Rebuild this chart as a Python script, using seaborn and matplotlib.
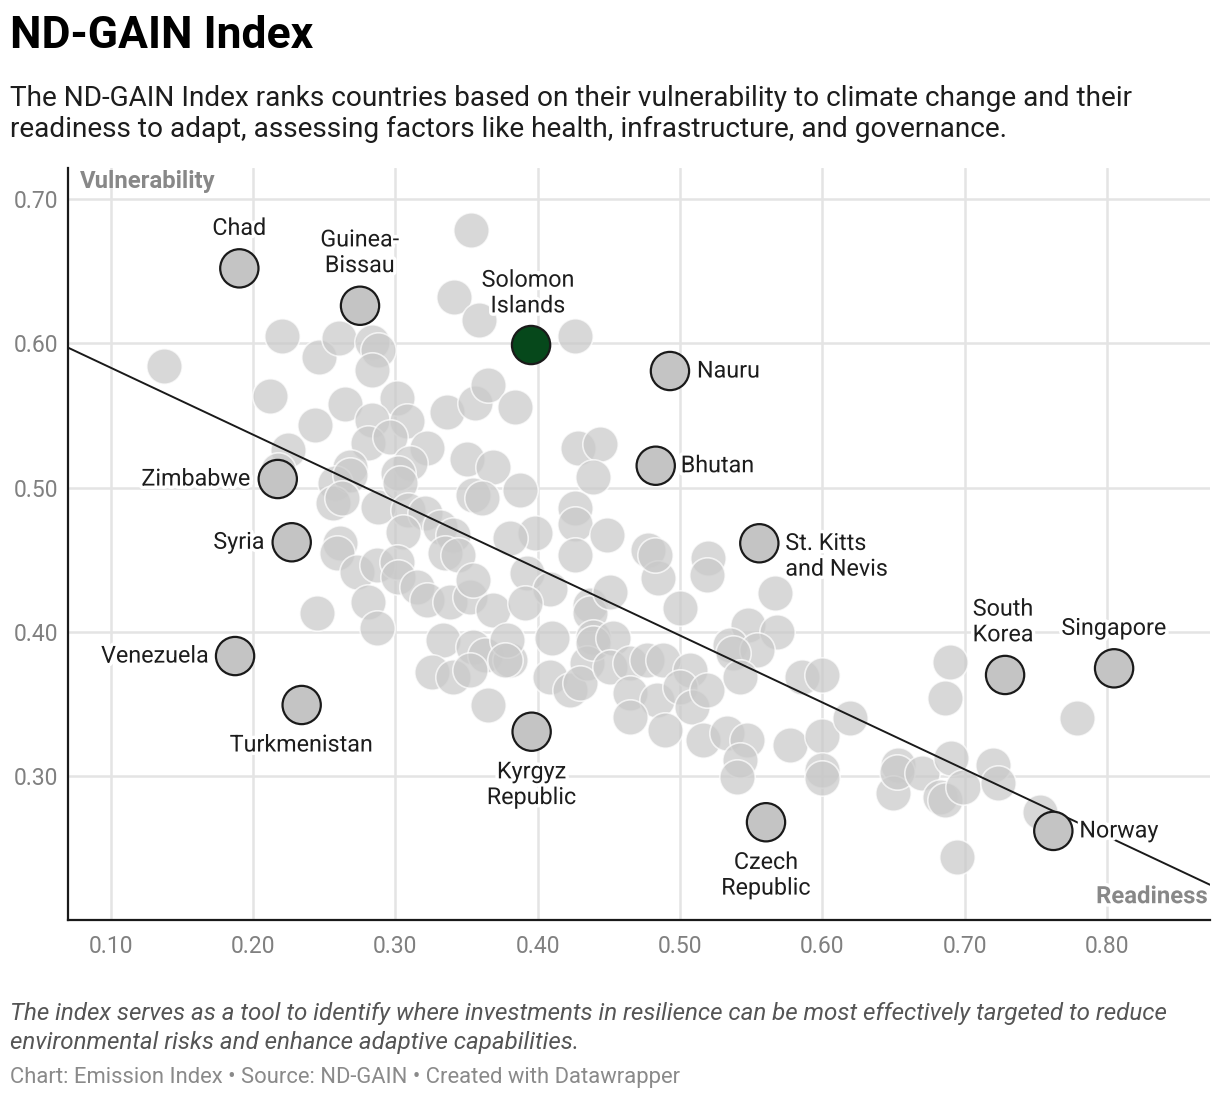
import numpy as np
import pandas as pd
import matplotlib
matplotlib.use("Agg")
import matplotlib.pyplot as plt
import matplotlib.patheffects as pe
import seaborn as sns

# all countries (readiness, vulnerability)
readiness = [0.1375, 0.2204, 0.2119, 0.2464, 0.2604, 0.2836, 0.2878, 0.2836, 0.3532, 0.3412,
             0.3588, 0.4263, 0.2647, 0.3012, 0.2436, 0.2836, 0.3082, 0.3363, 0.2808, 0.2963,
             0.3223, 0.2246, 0.3103, 0.2682, 0.3560, 0.3651, 0.3841, 0.3504, 0.3687, 0.3876,
             0.3546, 0.3609, 0.4284, 0.4438, 0.4389, 0.4263, 0.4263, 0.4263, 0.3982, 0.3806,
             0.3926, 0.4087, 0.4368, 0.2576, 0.2682, 0.2562, 0.2625, 0.2878, 0.3019, 0.3033,
             0.3089, 0.3209, 0.3314, 0.3054, 0.3405, 0.3349, 0.3441, 0.2611, 0.2590, 0.2731,
             0.2871, 0.3012, 0.3019, 0.3152, 0.2808, 0.2871, 0.2450, 0.3223, 0.3384, 0.3525,
             0.3687, 0.3911, 0.3546, 0.3335, 0.3546, 0.3630, 0.3806, 0.3258, 0.3405, 0.3525,
             0.3651, 0.4101, 0.4087, 0.4228, 0.4368, 0.4389, 0.4347, 0.4488, 0.4776, 0.4846,
             0.5197, 0.5190, 0.4509, 0.5001, 0.5668, 0.5479, 0.5682, 0.5352, 0.5542, 0.5373,
             0.4389, 0.4530, 0.3785, 0.3771, 0.4298, 0.4509, 0.4649, 0.4768, 0.4881, 0.5071,
             0.4649, 0.4839, 0.5001, 0.5085, 0.5190, 0.4649, 0.4895, 0.5162, 0.5331, 0.5472,
             0.5424, 0.5403, 0.5424, 0.5858, 0.5999, 0.5774, 0.5999, 0.5999, 0.5999, 0.6195,
             0.6533, 0.6498, 0.6898, 0.6863, 0.7791, 0.6526, 0.6701, 0.6905, 0.6828, 0.6863,
             0.6989, 0.7200, 0.7235, 0.7531, 0.6947, 0.2176, 0.4827]
vulnerability = [0.5843, 0.6051, 0.5635, 0.5905, 0.6037, 0.6009, 0.5954, 0.5815, 0.6785, 0.6321,
                 0.6161, 0.6051, 0.5580, 0.5621, 0.5434, 0.5469, 0.5462, 0.5524, 0.5310, 0.5351,
                 0.5275, 0.5261, 0.5171, 0.5143, 0.5587, 0.5711, 0.5559, 0.5199, 0.5143, 0.4984,
                 0.4949, 0.4929, 0.5275, 0.5303, 0.5074, 0.4859, 0.4749, 0.4534, 0.4686, 0.4652,
                 0.4409, 0.4298, 0.4188, 0.5033, 0.5088, 0.4894, 0.4929, 0.4866, 0.5102, 0.5033,
                 0.4846, 0.4825, 0.4728, 0.4693, 0.4672, 0.4548, 0.4534, 0.4617, 0.4548, 0.4416,
                 0.4465, 0.4485, 0.4382, 0.4312, 0.4208, 0.4028, 0.4132, 0.4222, 0.4208, 0.4243,
                 0.4153, 0.4202, 0.4361, 0.3945, 0.3897, 0.3841, 0.3807, 0.3724, 0.3689, 0.3738,
                 0.3495, 0.3959, 0.3689, 0.3599, 0.4132, 0.3966, 0.3786, 0.4672, 0.4569, 0.4375,
                 0.4513, 0.4395, 0.4278, 0.4167, 0.4271, 0.4049, 0.4001, 0.3911, 0.3876, 0.3855,
                 0.3925, 0.3959, 0.3945, 0.3807, 0.3648, 0.3758, 0.3786, 0.3807, 0.3807, 0.3738,
                 0.3578, 0.3530, 0.3620, 0.3481, 0.3599, 0.3412, 0.3322, 0.3253, 0.3301, 0.3253,
                 0.3114, 0.2997, 0.3689, 0.3689, 0.3703, 0.3218, 0.3280, 0.3045, 0.2990, 0.3405,
                 0.3080, 0.2886, 0.3793, 0.3544, 0.3405, 0.3031, 0.3024, 0.3128, 0.2858, 0.2837,
                 0.2927, 0.3080, 0.2955, 0.2754, 0.2443, 0.5123, 0.4534]

# labelled countries
countries = ["Chad", "Guinea-\nBissau", "Solomon\nIslands", "Nauru", "Bhutan",
             "St. Kitts\nand Nevis", "Zimbabwe", "Syria", "Venezuela", "Turkmenistan",
             "Kyrgyz\nRepublic", "Czech\nRepublic", "South\nKorea", "Singapore", "Norway"]
countries_readiness = [0.1904, 0.2752, 0.3954, 0.4930, 0.4830, 0.5558, 0.2174, 0.2272,
                       0.1874, 0.2342, 0.3958, 0.5605, 0.7285, 0.8051, 0.7624]
countries_vulnerability = [0.6519, 0.6260, 0.5988, 0.5808, 0.5152, 0.4615, 0.5060, 0.4622,
                           0.3834, 0.3495, 0.3310, 0.2683, 0.3703, 0.3749, 0.2623]
highlight = "Solomon\nIslands"

# trend line end points
trend_x = [0.070, 0.8725]
trend_y = [0.597, 0.225]

x_ticks = [0.1, 0.2, 0.3, 0.4, 0.5, 0.6, 0.7, 0.8]
y_ticks = [0.3, 0.4, 0.5, 0.6, 0.7]

# label placement: (dx, dy) in pixels, ha
label_pos = {
    "Chad": (0, 40, "center"), "Guinea-\nBissau": (0, 53, "center"),
    "Solomon\nIslands": (-3, 52, "center"), "Nauru": (27, 0, "left"),
    "Bhutan": (25, 0, "left"), "St. Kitts\nand Nevis": (26, -13, "left"),
    "Zimbabwe": (-27, 0, "right"), "Syria": (-27, 0, "right"),
    "Venezuela": (-26, 0, "right"), "Turkmenistan": (0, -40, "center"),
    "Kyrgyz\nRepublic": (0, -53, "center"), "Czech\nRepublic": (0, -53, "center"),
    "South\nKorea": (-2, 53, "center"), "Singapore": (0, 40, "center"),
    "Norway": (26, 0, "left"),
}

sns.set_style("white")
plt.rcParams["font.family"] = ["Roboto", "DejaVu Sans"]

W, H = 1220, 1102
fig = plt.figure(figsize=(W / 100, H / 100), dpi=100)
ax = fig.add_axes([68 / W, 1 - 920 / H, (1210 - 68) / W, (920 - 168) / H])

df = pd.DataFrame({"readiness": readiness, "vulnerability": vulnerability})
hl = pd.DataFrame({"readiness": countries_readiness,
                   "vulnerability": countries_vulnerability,
                   "country": countries})

sns.scatterplot(data=df, x="readiness", y="vulnerability", ax=ax, s=650,
                color="#c9c9c9", alpha=0.72, edgecolor="white", linewidth=1.2, zorder=2)
sns.lineplot(x=trend_x, y=trend_y, ax=ax, color="#1a1a1a", linewidth=1.4, zorder=3)

cols = ["#06481b" if c == highlight else "#c4c4c4" for c in countries]
sns.scatterplot(data=hl, x="readiness", y="vulnerability", ax=ax, s=760,
                hue="country", palette=dict(zip(countries, cols)), legend=False,
                edgecolor="#1a1a1a", linewidth=1.6, zorder=4)

halo = [pe.withStroke(linewidth=5, foreground="white")]
for name, xv, yv in zip(countries, countries_readiness, countries_vulnerability):
    dx, dy, ha = label_pos[name]
    ax.annotate(name, (xv, yv), xytext=(dx, dy), textcoords="offset pixels",
                ha=ha, va="center", fontsize=16.8, color="#1d1d1d",
                linespacing=1.15, path_effects=halo, zorder=5)

ax.set_xlim(0.070, 0.8725)
ax.set_ylim(0.2006, 0.7214)
ax.set_xticks(x_ticks)
ax.set_yticks(y_ticks)
ax.set_xticklabels([f"{v:.2f}" for v in x_ticks])
ax.set_yticklabels([f"{v:.2f}" for v in y_ticks])
ax.tick_params(length=0, labelsize=16.5, labelcolor="#808080")
ax.tick_params(axis="x", pad=11)
ax.tick_params(axis="y", pad=7)
ax.grid(True, color="#e4e4e4", linewidth=1.8, zorder=0)
ax.set_axisbelow(True)
ax.set_xlabel("")
ax.set_ylabel("")
for side in ["top", "right"]:
    ax.spines[side].set_visible(False)
for side in ["left", "bottom"]:
    ax.spines[side].set_color("#1a1a1a")
    ax.spines[side].set_linewidth(1.6)

ax.text(0.0105, 0.982, "Vulnerability", transform=ax.transAxes, ha="left", va="center",
        fontsize=17.2, fontweight="bold", color="#888888")
ax.text(0.998, 0.031, "Readiness", transform=ax.transAxes, ha="right", va="center",
        fontsize=17.2, fontweight="bold", color="#888888", path_effects=halo)

fig.text(10 / W, 1 - 36 / H, "ND-GAIN Index", fontsize=32, fontweight="bold",
         color="#000000", va="center")
fig.text(10 / W, 1 - 114 / H,
         "The ND-GAIN Index ranks countries based on their vulnerability to climate change and their\n"
         "readiness to adapt, assessing factors like health, infrastructure, and governance.",
         fontsize=20.2, color="#1d1d1d", va="center", linespacing=1.22)
fig.text(10 / W, 1 - 1028 / H,
         "The index serves as a tool to identify where investments in resilience can be most effectively targeted to reduce\n"
         "environmental risks and enhance adaptive capabilities.",
         fontsize=17.4, style="italic", color="#555555", va="center", linespacing=1.3)
fig.text(10 / W, 1 - 1078 / H,
         "Chart: Emission Index \u2022 Source: ND-GAIN \u2022 Created with Datawrapper",
         fontsize=15.8, color="#8a8a8a", va="center")

fig.savefig("out.png", dpi=100, facecolor="white")
